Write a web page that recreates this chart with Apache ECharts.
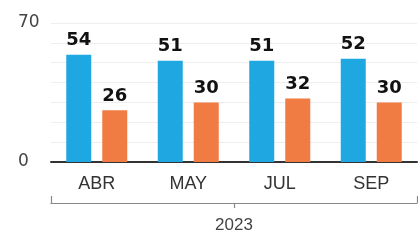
<!DOCTYPE html>
<html>
<head>
<meta charset="utf-8">
<script src="https://cdn.jsdelivr.net/npm/echarts@6/dist/echarts.min.js"></script>
<style>
  html, body { margin: 0; padding: 0; background: #fff; }
  #chart { width: 418px; height: 240px; }
</style>
</head>
<body>
<div id="chart"></div>
<script>
  // datos
  var months = ['ABR', 'MAY', 'JUL', 'SEP']
  var years = ['2023']
  var serieAzul = [54, 51, 51, 52]
  var serieNaranja = [26, 30, 32, 30]
  var yTicks = [0, 70]

  var chart = echarts.init(document.getElementById('chart'))

  var barLabel = {
    show: true,
    position: 'top',
    distance: 5,
    fontFamily: 'DejaVu Sans',
    fontWeight: 'bold',
    fontSize: 18,
    color: '#111'
  }

  var options = {
    animation: false,
    grid: { left: 51, right: 1, top: 23, bottom: 78 },
    xAxis: [{
      type: 'category',
      data: months,
      axisLine: { show: true, lineStyle: { color: '#333', width: 2 } },
      axisTick: { show: false },
      axisLabel: { margin: 13, fontFamily: 'Liberation Sans', fontSize: 18, color: '#333' }
    }, {
      // llave del año
      type: 'category',
      data: years,
      position: 'bottom',
      offset: 41,
      axisLine: { show: true, lineStyle: { color: '#888', width: 1.2 } },
      axisTick: { show: true, inside: true, length: 7, lineStyle: { color: '#888', width: 1.2 } },
      axisLabel: { margin: 14, fontFamily: 'Liberation Sans', fontSize: 17, color: '#444' }
    }, {
      type: 'category',
      data: years,
      position: 'bottom',
      offset: 41,
      axisLine: { show: false },
      axisTick: { show: true, alignWithLabel: true, length: 5, lineStyle: { color: '#888', width: 1.2 } },
      axisLabel: { show: false }
    }],
    yAxis: {
      type: 'value',
      min: 0,
      max: 70,
      interval: 10,
      axisLine: { show: false },
      axisTick: { show: false },
      splitLine: { lineStyle: { color: '#eee', width: 1 } },
      axisLabel: {
        margin: 33,
        align: 'left',
        fontFamily: 'DejaVu Sans',
        fontSize: 17,
        color: '#444',
        formatter: function (v) { return yTicks.indexOf(v) > -1 ? v : '' }
      }
    },
    series: [{
      type: 'bar',
      data: serieAzul,
      barWidth: 25,
      barGap: '44%',
      itemStyle: { color: '#1ea7e1' },
      label: barLabel
    }, {
      type: 'bar',
      data: serieNaranja,
      barWidth: 25,
      barGap: '44%',
      itemStyle: { color: '#f07b43' },
      label: barLabel
    }]
  }

  chart.setOption(options)
</script>
</body>
</html>
